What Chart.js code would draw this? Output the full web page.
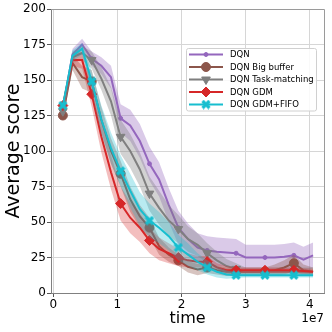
<!DOCTYPE html>
<html>
<head>
<meta charset="utf-8">
<script src="https://cdn.jsdelivr.net/npm/chart.js@4.4.0/dist/chart.umd.min.js"></script>
<style>
html,body{margin:0;padding:0;background:#fff;}
#c{display:block;}
</style>
</head>
<body>
<canvas id="c" width="332" height="332" style="width:332px;height:332px"></canvas>
<script>
// ---- data ----
const timeSteps = [1.5e6,3e6,4.5e6,6e6,7.5e6,9e6,10.5e6,12e6,13.5e6,15e6,16.5e6,18e6,19.5e6,21e6,22.5e6,24e6,25.5e6,27e6,28.5e6,30e6,31.5e6,33e6,34.5e6,36e6,37.5e6,39e6,40.5e6];
const seriesNames = ["DQN","DQN Big buffer","DQN Task-matching","DQN GDM","DQN GDM+FIFO"];
const dqnMean     = [130,168,175,165,160,152,123,118,107,91,80,62,46,38,32,30,29,28.5,28,25,25,25,25,25.5,26.5,23.5,26.5];
const dqnStd      = [4,4,4,5,6,8,10,11,12,12,12,12,12,11,10,10,10,10,10,9,9,9,9,9,9,9,9];
const bigMean     = [125,162,152,149,122,100,84,66,54,46,33,27,23,18.5,16.5,18,16,15,15,15,15,15,16,18,21,16,15];
const bigStd      = [3,5,8,8,9,9,9,9,8,7,6,5,4,4,4,4,3,3,3,3,3,3,4,5,6,4,3];
const taskMean    = [128,166,169,164,151,135,110,100,87,70,60,51,45,38,34,28,23,19,17,15,15,15,15,15,15,15,15];
const taskStd     = [3,4,5,6,8,10,12,12,12,12,12,11,10,9,8,7,6,5,4,3,3,3,3,3,3,3,3];
const gdmMean     = [132,164,164,140,110,85,63,53,46,37,31,28,25,23,22,22,18,16,16,16,16,16,16,16,16,15.5,15];
const gdmStd      = [3,4,6,9,11,12,12,11,10,9,8,7,6,5,4,4,3,3,2,2,2,2,2,2,2,2,2];
const fifoMean    = [132,167,172,149,122,102,86,72,59,51,46,40,32,27,22,18,15,13,12.5,12.5,12.5,12.5,12.5,12.5,12.5,12.5,12.5];
const fifoStd     = [3,4,4,7,10,11,11,12,12,12,11,10,9,8,6,5,4,3,2,1.5,1.5,1.5,1.5,1.5,1.5,1.5,1.5];
const xTicks = [0,1e7,2e7,3e7,4e7];
const yTicks = [0,25,50,75,100,125,150,175,200];

// ---- styles ----
function makeX(color, s){
  const c = document.createElement('canvas');
  c.width = s; c.height = s;
  const g = c.getContext('2d');
  g.strokeStyle = color; g.lineWidth = s*0.32; g.lineCap='butt';
  g.beginPath();
  g.moveTo(s*0.15,s*0.15); g.lineTo(s*0.85,s*0.85);
  g.moveTo(s*0.85,s*0.15); g.lineTo(s*0.15,s*0.85);
  g.stroke();
  return c;
}
const styles = [
  {color:'#9467bd', fill:'rgba(148,103,189,0.35)', pointStyle:'circle', radius:2, rotation:0},
  {color:'#8c564b', fill:'rgba(140,86,75,0.35)', pointStyle:'circle', radius:4.5, rotation:0},
  {color:'#7f7f7f', fill:'rgba(127,127,127,0.35)', pointStyle:'triangle', radius:5, rotation:180},
  {color:'#d62728', fill:'rgba(214,39,40,0.3)', pointStyle:'rectRot', radius:5, rotation:0},
  {color:'#17becf', fill:'rgba(23,190,207,0.3)', pointStyle:makeX('#17becf',10), radius:4.5, rotation:0}
];
const means = [dqnMean,bigMean,taskMean,gdmMean,fifoMean];
const stds = [dqnStd,bigStd,taskStd,gdmStd,fifoStd];

const datasets = [];
means.forEach((m,s)=>{
  const st = styles[s];
  const up = m.map((v,i)=>({x:timeSteps[i], y:v+stds[s][i]}));
  const lo = m.map((v,i)=>({x:timeSteps[i], y:v-stds[s][i]}));
  const base = 100 - s*10;
  datasets.push({label:'_up'+s, data:up, fill:'+1', backgroundColor:st.fill, borderWidth:0, pointRadius:0, order:base+2});
  datasets.push({label:'_lo'+s, data:lo, fill:false, borderWidth:0, pointRadius:0, order:base+1});
  datasets.push({label:seriesNames[s], data:m.map((v,i)=>({x:timeSteps[i], y:v})), fill:false,
    borderColor:st.color, backgroundColor:st.color, borderWidth:2, tension:0,
    pointStyle:st.pointStyle, pointRotation:st.rotation,
    pointRadius:(ctx)=> ctx.dataIndex % 3 === 0 ? st.radius : 0,
    pointBorderWidth:1, pointBorderColor:st.color, pointBackgroundColor:st.color,
    order:base});
});

const FONT = "'DejaVu Sans', sans-serif";

const decor = {
  id:'decor',
  afterDraw(chart){
    const ctx = chart.ctx; const a = chart.chartArea;
    ctx.save();
    // top/right spines
    ctx.strokeStyle = '#9a9a9a'; ctx.lineWidth = 1;
    ctx.beginPath();
    ctx.moveTo(a.left, a.top+0.5); ctx.lineTo(a.right+0.5, a.top+0.5); ctx.lineTo(a.right+0.5, a.bottom);
    ctx.stroke();
    // axis titles
    ctx.fillStyle = '#000';
    ctx.font = '16px ' + FONT;
    ctx.textAlign = 'center'; ctx.textBaseline = 'alphabetic';
    ctx.fillText('time', (a.left+a.right)/2, 323);
    ctx.save();
    ctx.translate(18.5, (a.top+a.bottom)/2);
    ctx.rotate(-Math.PI/2);
    ctx.font = '19px ' + FONT;
    ctx.fillText('Average score', 0, 0);
    ctx.restore();
    // offset text
    ctx.font = '12px ' + FONT;
    ctx.textAlign = 'right';
    ctx.fillText('1e7', a.right, 322);
    // legend
    const lx = 186.5, ly = 48.5, lw = 130, lh = 62.5;
    ctx.fillStyle = 'rgba(255,255,255,0.85)';
    ctx.strokeStyle = '#d0d0d0'; ctx.lineWidth = 1;
    ctx.beginPath();
    if (ctx.roundRect) ctx.roundRect(lx, ly, lw, lh, 2); else ctx.rect(lx, ly, lw, lh);
    ctx.fill(); ctx.stroke();
    const rows = [54.5, 67, 79.5, 92, 104.5];
    ctx.font = '8.5px ' + FONT;
    ctx.textAlign = 'left'; ctx.textBaseline = 'middle';
    styles.forEach((st,i)=>{
      const y = rows[i];
      ctx.strokeStyle = st.color; ctx.lineWidth = 2;
      ctx.beginPath(); ctx.moveTo(189, y); ctx.lineTo(223, y); ctx.stroke();
      ctx.fillStyle = st.color; ctx.strokeStyle = st.color; ctx.lineWidth = 1;
      Chart.helpers.drawPoint(ctx, {pointStyle:st.pointStyle, radius:st.radius, rotation:st.rotation, borderWidth:1}, 206, y);
      ctx.fillStyle = '#000';
      ctx.fillText(seriesNames[i], 230, y+0.5);
    });
    ctx.restore();
  }
};

new Chart(document.getElementById('c'), {
  type:'line',
  data:{datasets},
  options:{
    responsive:false, animation:false, devicePixelRatio:1,
    layout:{padding:{top:9, right:8, left:0, bottom:0}},
    plugins:{legend:{display:false}, tooltip:{enabled:false}},
    scales:{
      x:{type:'linear', min:-0.035e7, max:4.22e7,
        afterFit:(s)=>{s.height = 39;},
        afterBuildTicks:(s)=>{s.ticks = xTicks.map(v=>({value:v}));},
        ticks:{color:'#000', font:{family:FONT, size:12}, padding:1, maxRotation:0,
          callback:(v)=> String(Math.round(v/1e7))},
        grid:{color:'#d6d6d6', lineWidth:1, tickLength:4, tickColor:'#555'},
        border:{color:'#808080', width:1}
      },
      y:{type:'linear', min:0, max:200,
        afterFit:(s)=>{s.width = 51;},
        afterBuildTicks:(s)=>{s.ticks = yTicks.map(v=>({value:v}));},
        ticks:{color:'#000', font:{family:FONT, size:12}, padding:1},
        grid:{color:'#d6d6d6', lineWidth:1, tickLength:4, tickColor:'#555'},
        border:{color:'#808080', width:1}
      }
    }
  },
  plugins:[decor]
});
</script>
</body>
</html>
